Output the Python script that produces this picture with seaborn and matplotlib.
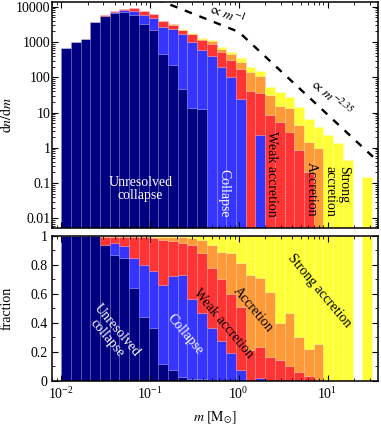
import warnings
warnings.filterwarnings("ignore")
import numpy as np
import pandas as pd
import matplotlib
matplotlib.use("Agg")
import matplotlib.pyplot as plt
from matplotlib.ticker import FixedLocator, FixedFormatter, MultipleLocator, NullFormatter, LogLocator
import seaborn as sns

# ---------------- data ----------------
log_mass_edges = np.linspace(-2.0, 1.5, 33)          # log10(m / Msun) bin edges

categories = ["Unresolved collapse", "Collapse", "Weak accretion", "Accretion", "Strong accretion"]
colors = ["#000080", "#3535ff", "#ff3535", "#ff9a38", "#ffff38"]

# total dn/dm per bin
total_dndm = [660, 1020, 1190, 3770, 6000, 7500, 8500, 9100, 7550, 6210, 4020, 3230,
              2280, 1760, 1270, 1140, 736, 531, 344, 200, 153, 52, 39, 28, 14.7, 6.8,
              4.0, 2.3, 1.34, 0.45, 0.0, 0.15]

# fraction of each bin per category
frac_unresolved = [1, 1, 1, 1, 0.94, 0.87, 0.85, 0.64, 0.44, 0.36, 0.115, 0.07, 0.021, 0.0075,
                   0.010, 0, 0, 0, 0, 0, 0, 0, 0, 0, 0, 0, 0, 0, 0, 0, 0, 0]
frac_collapse = [0, 0, 0, 0, 0, 0.085, 0.08, 0.205, 0.36, 0.395, 0.545, 0.65, 0.709, 0.5575,
                 0.46, 0.36, 0.27, 0.19, 0.07, 0, 0.015, 0, 0, 0, 0, 0, 0, 0, 0, 0, 0, 0]
frac_weak = [0, 0, 0, 0, 0.055, 0.04, 0.065, 0.148, 0.19, 0.23, 0.315, 0.245, 0.225, 0.375,
             0.41, 0.42, 0.43, 0.41, 0.44, 0.21, 0.215, 0.16, 0.14, 0.10, 0.06, 0.03, 0,
             0, 0, 0, 0, 0]
frac_accretion = [0, 0, 0, 0, 0.003, 0.003, 0.003, 0.005, 0.007, 0.011, 0.019, 0.025, 0.035,
                  0.045, 0.09, 0.16, 0.19, 0.28, 0.30, 0.52, 0.48, 0.45, 0.26, 0.37, 0.24,
                  0.19, 0.25, 0, 0, 0, 0, 0]
frac_strong = [0, 0, 0, 0, 0.002, 0.002, 0.002, 0.002, 0.003, 0.004, 0.006, 0.01, 0.01, 0.015,
               0.03, 0.06, 0.11, 0.12, 0.19, 0.27, 0.29, 0.39, 0.60, 0.53, 0.70, 0.78, 0.75,
               1, 1, 1, 0, 1]

# broken power-law guide (dn/dm ∝ m^-1, then ∝ m^-2.35)
guide_mass = [0.1, 1.0, 37.0]
guide_dndm = [19500, 1950, 0.41]

ytick_vals = [0.01, 0.1, 1, 10, 100, 1000, 10000]
ytick_labels = ["0.01", "0.1", "1", "10", "100", "1000", "10000"]
frac_ticks = [0, 0.2, 0.4, 0.6, 0.8, 1.0]
frac_labels = ["0", "0.2", "0.4", "0.6", "0.8", "1"]

# ---------------- long-form table ----------------
centres = 10 ** ((log_mass_edges[:-1] + log_mass_edges[1:]) / 2)
fracs = [frac_unresolved, frac_collapse, frac_weak, frac_accretion, frac_strong]
rows = []
for cat, fr in zip(categories, fracs):
    for i, m in enumerate(centres):
        rows.append({"mass": m, "category": cat, "dndm": total_dndm[i] * fr[i]})
df = pd.DataFrame(rows)
palette = dict(zip(categories, colors))

# ---------------- style ----------------
plt.rcParams.update({
    "font.family": "serif",
    "font.serif": ["Liberation Serif", "DejaVu Serif"],
    "mathtext.fontset": "stix",
    "font.size": 10,
    "axes.linewidth": 1.0,
    "xtick.direction": "in",
    "ytick.direction": "in",
})

W, H = 381, 425
fig = plt.figure(figsize=(W / 100, H / 100), dpi=100)
L, R = 52, 378
ax_top = fig.add_axes([L / W, 1 - 227.5 / H, (R - L) / W, (227.5 - 1.7) / H])
ax_bot = fig.add_axes([L / W, 1 - 380.5 / H, (R - L) / W, (380.5 - 236) / H])

hist_kws = dict(data=df, x="mass", weights="dndm", hue="category",
                hue_order=categories[::-1], palette=palette,
                bins=[float(b) for b in log_mass_edges],
                element="bars", stat="count", alpha=1, linewidth=0.5,
                edgecolor=(1, 1, 1, 0.12), legend=False)

sns.histplot(ax=ax_top, multiple="stack", log_scale=(True, True), **hist_kws)
ax_top.set_yscale("log", nonpositive="clip")
sns.histplot(ax=ax_bot, multiple="fill", log_scale=(True, False), **hist_kws)

sns.lineplot(x=guide_mass, y=guide_dndm, ax=ax_top, color="black", lw=1.7,
             linestyle=(0, (3.2, 3.4)), estimator=None, sort=False)

xlim = (0.0079, 37)
for ax in (ax_top, ax_bot):
    ax.set_xlim(*xlim)
    ax.tick_params(which="both", direction="in", top=True, right=True, labelsize=10)
    ax.tick_params(which="major", length=4.5, width=0.8)
    ax.tick_params(which="minor", length=2.5, width=0.6)
    ax.xaxis.set_major_locator(LogLocator(base=10, numticks=10))
    ax.xaxis.set_minor_locator(LogLocator(base=10, subs=np.arange(2, 10), numticks=10))
    for s in ax.spines.values():
        s.set_linewidth(1.1)

ax_top.set_ylim(0.0055, 14000)
ax_top.yaxis.set_major_locator(FixedLocator(ytick_vals))
ax_top.yaxis.set_major_formatter(FixedFormatter(ytick_labels))
ax_top.yaxis.set_minor_locator(LogLocator(base=10, subs=np.arange(2, 10), numticks=20))
ax_top.yaxis.set_minor_formatter(NullFormatter())
ax_top.xaxis.set_major_formatter(NullFormatter())
ax_top.xaxis.set_minor_formatter(NullFormatter())
ax_top.tick_params(axis="y", pad=1)
ax_top.set_xlabel("")
ax_top.set_ylabel(r"$\mathrm{d}n/\mathrm{d}m$", fontsize=10)
ax_top.yaxis.set_label_coords(-0.117, 0.5)

ax_bot.set_ylim(0, 1)
ax_bot.yaxis.set_major_locator(FixedLocator(frac_ticks))
ax_bot.yaxis.set_major_formatter(FixedFormatter(frac_labels))
ax_bot.yaxis.set_minor_locator(MultipleLocator(0.1))
ax_bot.tick_params(axis="y", pad=3)
ax_bot.tick_params(axis="x", pad=4)
ax_bot.set_ylabel("fraction", fontsize=10)
ax_bot.yaxis.set_label_coords(-0.117, 0.5)
ax_bot.set_xlabel(r"$m\ [\mathrm{M}_{\odot}]$", fontsize=10)
ax_bot.xaxis.set_label_coords(0.5, -0.2)

# ---------------- annotations ----------------
ax_top.text(0.74, 6300, r"$\propto\, m^{-1}$", rotation=-21, ha="center", va="center", fontsize=10)
ax_top.text(10.9, 27.5, r"$\propto\, m^{-2.35}$", rotation=-41, ha="center", va="center", fontsize=10)

ax_top.text(0.0785, 0.0678, "Unresolved\ncollapse", color="white", ha="center", va="center",
            fontsize=10, linespacing=1.0)
y_bottom = 0.0109
ax_top.text(0.678, y_bottom, "Collapse", color="white", rotation=-90, ha="center", va="bottom", fontsize=10)
ax_top.text(2.36, y_bottom, "Weak accretion", color="black", rotation=-90, ha="center", va="bottom", fontsize=10)
ax_top.text(6.65, y_bottom, "Accretion", color="black", rotation=-90, ha="center", va="bottom", fontsize=10)
ax_top.text(12.7, y_bottom, "Strong\naccretion", color="black", rotation=-90, ha="center", va="bottom",
            fontsize=10, multialignment="left", linespacing=1.0)

ax_bot.text(0.0375, 0.32, "Unresolved\ncollapse", color="white", rotation=-50, ha="center", va="center",
            fontsize=10, linespacing=1.0)
ax_bot.text(0.246, 0.316, "Collapse", color="white", rotation=-50, ha="center", va="center", fontsize=10)
ax_bot.text(0.678, 0.396, "Weak accretion", color="black", rotation=-50, ha="center", va="center", fontsize=10)
ax_bot.text(1.44, 0.49, "Accretion", color="black", rotation=-50, ha="center", va="center", fontsize=10)
ax_bot.text(8.19, 0.618, "Strong accretion", color="black", rotation=-50, ha="center", va="center", fontsize=10)

fig.savefig("out.png", dpi=100)
